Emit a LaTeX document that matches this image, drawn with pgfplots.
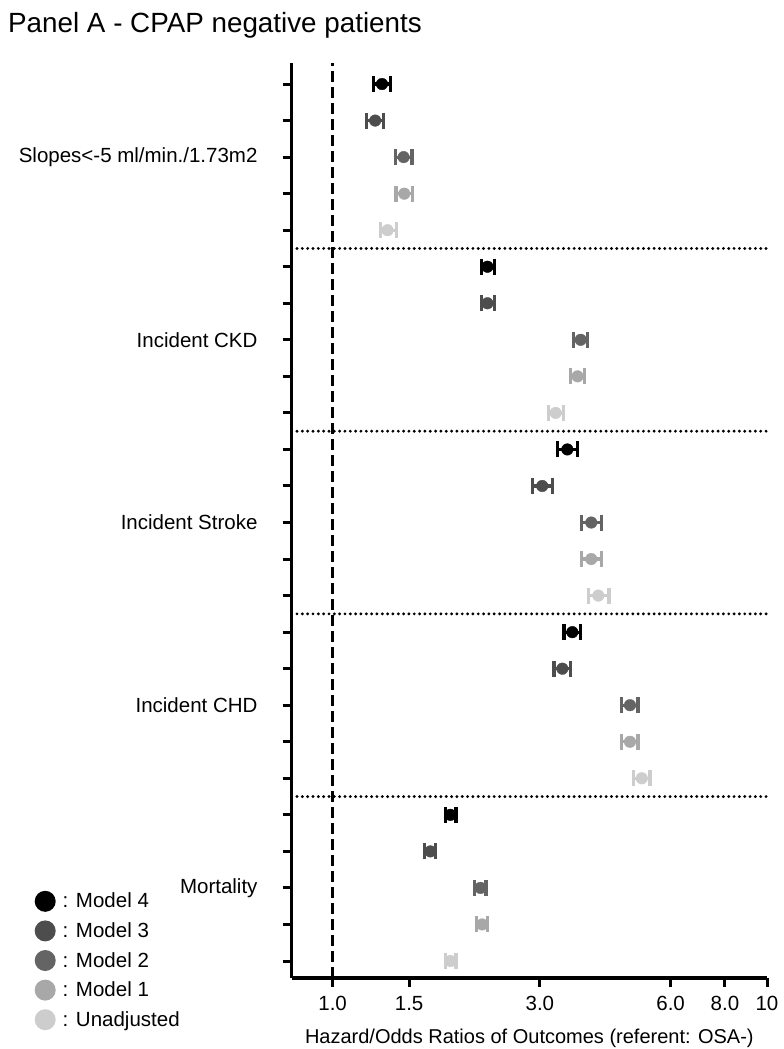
\documentclass[border=0pt]{standalone}
\usepackage{fontspec}
\setmainfont{Liberation Sans}
\usepackage{pgfplots}
\pgfplotsset{compat=1.18}
\usepackage{pgfplotstable}
\definecolor{cMfour}{HTML}{000000}
\definecolor{cMthree}{HTML}{4D4D4D}
\definecolor{cMtwo}{HTML}{646464}
\definecolor{cMone}{HTML}{A8A8A8}
\definecolor{cUn}{HTML}{CDCDCD}

\pgfplotstableread{
k x lo hi
25 1.299 1.242 1.359
20 2.272 2.201 2.358
15 3.470 3.290 3.670
10 3.563 3.408 3.724
5 1.867 1.818 1.924
}\mfour
\pgfplotstableread{
k x lo hi
24 1.253 1.199 1.310
19 2.272 2.201 2.358
14 3.038 2.881 3.214
9 3.380 3.232 3.530
4 1.679 1.628 1.726
}\mthree
\pgfplotstableread{
k x lo hi
23 1.457 1.394 1.523
18 3.724 3.588 3.864
13 3.940 3.737 4.163
8 4.837 4.629 5.048
3 2.189 2.124 2.256
}\mtwo
\pgfplotstableread{
k x lo hi
22 1.462 1.400 1.530
17 3.664 3.531 3.803
12 3.940 3.737 4.163
7 4.837 4.629 5.048
2 2.209 2.143 2.276
}\mone
\pgfplotstableread{
k x lo hi
21 1.338 1.287 1.401
16 3.262 3.142 3.401
11 4.090 3.879 4.327
6 5.148 4.925 5.381
1 1.867 1.818 1.924
}\munadj

\pgfplotsset{
  ci/.style={only marks, mark=*, mark size=5.8bp, color=#1, fill=#1,
    error bars/.cd, x dir=both, x explicit, error mark=|,
    error bar style={line width=3.2bp, color=#1},
    error mark options={line width=3.2bp, mark size=8bp, color=#1}},
}

\begin{document}
\begin{tikzpicture}
\path[use as bounding box] (-291.7bp,-71bp) rectangle (492.3bp,978bp);
\begin{axis}[
  at={(0,0)}, anchor=south west, scale only axis,
  width=475.3bp, height=915bp,
  xmode=log, xmin=0.805, xmax=10, ymin=0.535, ymax=25.576,
  axis x line*=bottom, axis y line*=left,
  axis line style={line width=3bp, -},
  xtick={1,1.5,3,6,8,10}, xticklabels={1.0,1.5,3.0,6.0,8.0,10},
  xminorticks=false, yminorticks=false,
  ytick={1,...,25},
  yticklabels={,,Mortality,,,,,Incident CHD,,,,,Incident Stroke,,,,,Incident CKD,,,,,Slopes<-5 ml/min./1.73m2,,},
  tick align=outside, major tick length=9bp,
  tick style={line width=3bp, black},
  /pgf/number format/assume math mode=true,
  ticklabel style={font=\fontsize{20.5bp}{24bp}\selectfont},
  xticklabel style={anchor=base, inner sep=0pt, yshift=-23bp},
  yticklabel style={anchor=east, inner sep=0pt, xshift=-25bp},
  xlabel={Hazard/Odds Ratios of Outcomes (referent: OSA-)},
  xlabel style={at={(axis description cs:0.5,0)}, anchor=base, inner sep=0pt, yshift=-65bp, font=\fontsize{20bp}{24bp}\selectfont},
  clip=false,
  legend image code/.code={\fill[#1, draw=none] (10.5bp,0bp) circle (10.5bp);},
  legend cell align=left,
  legend style={at={(-0.5411,0.0955)}, anchor=north west, draw=none, fill=none,
    inner sep=0pt, row sep=8.6bp,
    /tikz/every odd column/.append style={column sep=5bp},
    font=\fontsize{20.5bp}{24bp}\selectfont},
]
\addplot[forget plot, line width=3.2bp, dash pattern=on 11bp off 5bp] coordinates {(1,0.535) (1,25.576)};
\addplot[forget plot, line width=3.2bp, line cap=round, dash pattern=on 0bp off 5.33bp] coordinates {(0.828,20.5) (10.05,20.5)};
\addplot[forget plot, line width=3.2bp, line cap=round, dash pattern=on 0bp off 5.33bp] coordinates {(0.828,15.5) (10.05,15.5)};
\addplot[forget plot, line width=3.2bp, line cap=round, dash pattern=on 0bp off 5.33bp] coordinates {(0.828,10.5) (10.05,10.5)};
\addplot[forget plot, line width=3.2bp, line cap=round, dash pattern=on 0bp off 5.33bp] coordinates {(0.828,5.5) (10.05,5.5)};

\addplot[forget plot, ci=cUn] table[x=x, y=k, x error plus expr=\thisrow{hi}-\thisrow{x}, x error minus expr=\thisrow{x}-\thisrow{lo}] {\munadj};
\addplot[forget plot, ci=cMone] table[x=x, y=k, x error plus expr=\thisrow{hi}-\thisrow{x}, x error minus expr=\thisrow{x}-\thisrow{lo}] {\mone};
\addplot[forget plot, ci=cMtwo] table[x=x, y=k, x error plus expr=\thisrow{hi}-\thisrow{x}, x error minus expr=\thisrow{x}-\thisrow{lo}] {\mtwo};
\addplot[forget plot, ci=cMthree] table[x=x, y=k, x error plus expr=\thisrow{hi}-\thisrow{x}, x error minus expr=\thisrow{x}-\thisrow{lo}] {\mthree};
\addplot[forget plot, ci=cMfour] table[x=x, y=k, x error plus expr=\thisrow{hi}-\thisrow{x}, x error minus expr=\thisrow{x}-\thisrow{lo}] {\mfour};

\addlegendimage{fill=cMfour}
\addlegendentry{: Model 4}
\addlegendimage{fill=cMthree}
\addlegendentry{: Model 3}
\addlegendimage{fill=cMtwo}
\addlegendentry{: Model 2}
\addlegendimage{fill=cMone}
\addlegendentry{: Model 1}
\addlegendimage{fill=cUn}
\addlegendentry{: Unadjusted}
\end{axis}
\node[anchor=base west, inner sep=0pt, font=\fontsize{27.8bp}{32bp}\selectfont] at (-283.7bp,945bp) {Panel A - CPAP negative patients};
\end{tikzpicture}
\end{document}
